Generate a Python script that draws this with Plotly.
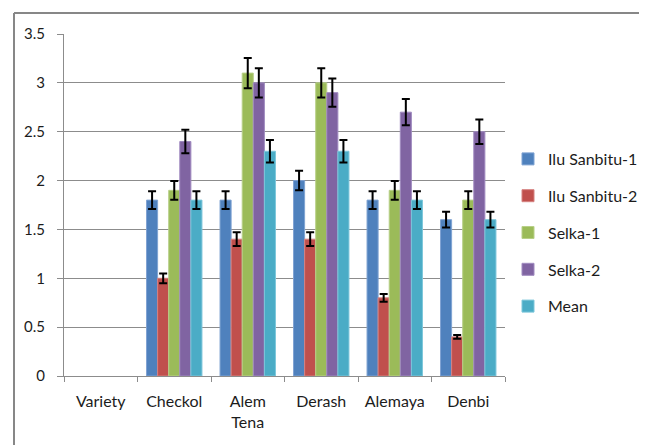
import plotly.graph_objects as go

categories = ["Variety", "Checkol", "Alem<br>Tena", "Derash", "Alemaya", "Denbi"]
series_names = ["Ilu Sanbitu-1", "Ilu Sanbitu-2", "Selka-1", "Selka-2", "Mean"]
ilu_sanbitu_1 = [None, 1.8, 1.8, 2.0, 1.8, 1.6]
ilu_sanbitu_2 = [None, 1.0, 1.4, 1.4, 0.8, 0.4]
selka_1 = [None, 1.9, 3.1, 3.0, 1.9, 1.8]
selka_2 = [None, 2.4, 3.0, 2.9, 2.7, 2.5]
mean = [None, 1.8, 2.3, 2.3, 1.8, 1.6]
error_percent = 5
y_ticks = [0, 0.5, 1, 1.5, 2, 2.5, 3, 3.5]
y_tick_labels = ["0", "0.5", "1", "1.5", "2", "2.5", "3", "3.5"]

colors = ["#4F81BD", "#C0504D", "#9BBB59", "#8064A2", "#4BACC6"]
edge_colors = ["#7FA3D3", "#D68280", "#B8D088", "#A08BC0", "#7DC7DB"]
values = [ilu_sanbitu_1, ilu_sanbitu_2, selka_1, selka_2, mean]

FONT = "Lato"
TXT = "#1c1c1c"
GRID = "#8c8c8c"

fig = go.Figure()
for name, vals, c, ec in zip(series_names, values, colors, edge_colors):
    fig.add_trace(go.Bar(
        name=name, x=categories, y=vals, legendgroup=name,
        marker=dict(color=c, line=dict(color=ec, width=1)),
        error_y=dict(type="percent", value=error_percent, color="#000000",
                     thickness=2, width=4),
    ))

# page body has an 8px margin; work in screen pixels and subtract it
OFF = 8
W, H = 647 - OFF, 445 - OFF
L, R, T, B = 64 - OFF, 505 - OFF, 34 - OFF, 376 - OFF
pw, ph = R - L, B - T

def px_x(p):
    return (p - OFF - L) / pw

def px_y(p):
    return (B - (p - OFF)) / ph

border = dict(color="#878787", width=2)

fig.update_layout(
    width=W, height=H,
    margin=dict(l=L, r=W - R, t=T, b=H - B, pad=0, autoexpand=False),
    paper_bgcolor="white", plot_bgcolor="white",
    barmode="group", bargap=0.246, bargroupgap=0,
    font=dict(family=FONT, size=15, color=TXT),
    showlegend=True,
    legend=dict(x=px_x(508), xanchor="left", y=px_y(142), yanchor="top",
                font=dict(family=FONT, size=16, color=TXT),
                tracegroupgap=13, bgcolor="rgba(0,0,0,0)", borderwidth=0),
    xaxis=dict(
        type="category", showgrid=False, showline=True, linecolor=GRID,
        linewidth=1, ticks="outside", tickson="boundaries", ticklen=5,
        tickcolor=GRID, tickfont=dict(family=FONT, size=16, color=TXT),
        ticklabelstandoff=11, fixedrange=True, automargin=False,
    ),
    yaxis=dict(
        range=[0, 3.5], tickvals=y_ticks, ticktext=y_tick_labels,
        showgrid=True, gridcolor=GRID, gridwidth=1, showline=True,
        linecolor=GRID, linewidth=1, ticks="outside", ticklen=6,
        tickcolor=GRID, zeroline=False,
        tickfont=dict(family=FONT, size=15, color=TXT),
        ticklabelstandoff=9, fixedrange=True, automargin=False,
    ),
    shapes=[
        dict(type="line", xref="paper", yref="paper",
             x0=px_x(14), x1=px_x(700), y0=px_y(13), y1=px_y(13),
             line=border, layer="below"),
        dict(type="line", xref="paper", yref="paper",
             x0=px_x(14), x1=px_x(14), y0=px_y(13), y1=px_y(500),
             line=border, layer="below"),
    ],
)

fig.write_html("out.html", config={"displayModeBar": False})
